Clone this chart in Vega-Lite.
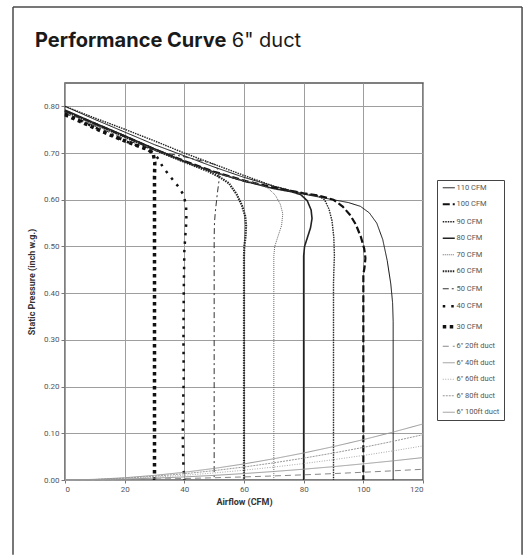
{
  "$schema": "https://vega.github.io/schema/vega-lite/v6.json",
  "width": 358,
  "height": 397,
  "padding": {"left": 12, "top": 6, "right": 2, "bottom": 0},
  "background": "#ffffff",
  "config": {
    "view": {"stroke": "#555555", "strokeWidth": 1.5},
    "axis": {"domain": false, "grid": true, "gridColor": "#9e9e9e", "gridWidth": 1, "tickColor": "#777777", "labelFont": "Roboto", "labelFontSize": 8, "labelColor": "#555555", "titleFont": "Roboto", "titleFontSize": 9, "titleFontWeight": "bold", "titleColor": "#333333"}
  },
  "datasets": {
    "fan": [
      {"s":"110 CFM","k":0,"x":0,"y":0.800},{"s":"110 CFM","k":1,"x":10,"y":0.772},{"s":"110 CFM","k":2,"x":20,"y":0.745},{"s":"110 CFM","k":3,"x":30,"y":0.718},{"s":"110 CFM","k":4,"x":40,"y":0.694},{"s":"110 CFM","k":5,"x":50,"y":0.670},{"s":"110 CFM","k":6,"x":60,"y":0.648},{"s":"110 CFM","k":7,"x":70,"y":0.629},{"s":"110 CFM","k":8,"x":80,"y":0.612},{"s":"110 CFM","k":9,"x":90,"y":0.600},{"s":"110 CFM","k":10,"x":95,"y":0.594},{"s":"110 CFM","k":11,"x":99,"y":0.586},{"s":"110 CFM","k":12,"x":102,"y":0.572},{"s":"110 CFM","k":13,"x":104.5,"y":0.550},{"s":"110 CFM","k":14,"x":106.5,"y":0.515},{"s":"110 CFM","k":15,"x":108,"y":0.470},{"s":"110 CFM","k":16,"x":109.2,"y":0.420},{"s":"110 CFM","k":17,"x":109.8,"y":0.380},{"s":"110 CFM","k":18,"x":110,"y":0.340},{"s":"110 CFM","k":19,"x":110,"y":0},
      {"s":"100 CFM","k":0,"x":0,"y":0.790},{"s":"100 CFM","k":1,"x":10,"y":0.763},{"s":"100 CFM","k":2,"x":20,"y":0.736},{"s":"100 CFM","k":3,"x":30,"y":0.708},{"s":"100 CFM","k":4,"x":40,"y":0.683},{"s":"100 CFM","k":5,"x":50,"y":0.660},{"s":"100 CFM","k":6,"x":60,"y":0.641},{"s":"100 CFM","k":7,"x":70,"y":0.626},{"s":"100 CFM","k":8,"x":80,"y":0.614},{"s":"100 CFM","k":9,"x":85,"y":0.609},{"s":"100 CFM","k":10,"x":90,"y":0.600},{"s":"100 CFM","k":11,"x":93,"y":0.586},{"s":"100 CFM","k":12,"x":95.5,"y":0.568},{"s":"100 CFM","k":13,"x":97.5,"y":0.547},{"s":"100 CFM","k":14,"x":99.2,"y":0.520},{"s":"100 CFM","k":15,"x":100.3,"y":0.495},{"s":"100 CFM","k":16,"x":100.7,"y":0.475},{"s":"100 CFM","k":17,"x":100.4,"y":0.455},{"s":"100 CFM","k":18,"x":100,"y":0.440},{"s":"100 CFM","k":19,"x":100,"y":0},
      {"s":"90 CFM","k":0,"x":0,"y":0.800},{"s":"90 CFM","k":1,"x":10,"y":0.775},{"s":"90 CFM","k":2,"x":20,"y":0.751},{"s":"90 CFM","k":3,"x":30,"y":0.726},{"s":"90 CFM","k":4,"x":40,"y":0.700},{"s":"90 CFM","k":5,"x":50,"y":0.676},{"s":"90 CFM","k":6,"x":60,"y":0.652},{"s":"90 CFM","k":7,"x":70,"y":0.629},{"s":"90 CFM","k":8,"x":80,"y":0.613},{"s":"90 CFM","k":9,"x":85,"y":0.608},{"s":"90 CFM","k":10,"x":87,"y":0.600},{"s":"90 CFM","k":11,"x":88.5,"y":0.580},{"s":"90 CFM","k":12,"x":89.5,"y":0.555},{"s":"90 CFM","k":13,"x":90.1,"y":0.520},{"s":"90 CFM","k":14,"x":90.3,"y":0.480},{"s":"90 CFM","k":15,"x":90.1,"y":0.445},{"s":"90 CFM","k":16,"x":90,"y":0.420},{"s":"90 CFM","k":17,"x":90,"y":0},
      {"s":"80 CFM","k":0,"x":0,"y":0.792},{"s":"80 CFM","k":1,"x":10,"y":0.764},{"s":"80 CFM","k":2,"x":20,"y":0.737},{"s":"80 CFM","k":3,"x":30,"y":0.709},{"s":"80 CFM","k":4,"x":40,"y":0.682},{"s":"80 CFM","k":5,"x":50,"y":0.659},{"s":"80 CFM","k":6,"x":60,"y":0.640},{"s":"80 CFM","k":7,"x":70,"y":0.624},{"s":"80 CFM","k":8,"x":76,"y":0.617},{"s":"80 CFM","k":9,"x":79,"y":0.611},{"s":"80 CFM","k":10,"x":81.2,"y":0.598},{"s":"80 CFM","k":11,"x":82.5,"y":0.578},{"s":"80 CFM","k":12,"x":82.8,"y":0.560},{"s":"80 CFM","k":13,"x":82.3,"y":0.540},{"s":"80 CFM","k":14,"x":81.2,"y":0.518},{"s":"80 CFM","k":15,"x":80.3,"y":0.500},{"s":"80 CFM","k":16,"x":80,"y":0.480},{"s":"80 CFM","k":17,"x":80,"y":0},
      {"s":"70 CFM","k":0,"x":0,"y":0.788},{"s":"70 CFM","k":1,"x":10,"y":0.760},{"s":"70 CFM","k":2,"x":20,"y":0.733},{"s":"70 CFM","k":3,"x":30,"y":0.706},{"s":"70 CFM","k":4,"x":40,"y":0.681},{"s":"70 CFM","k":5,"x":50,"y":0.658},{"s":"70 CFM","k":6,"x":60,"y":0.641},{"s":"70 CFM","k":7,"x":65,"y":0.634},{"s":"70 CFM","k":8,"x":68,"y":0.625},{"s":"70 CFM","k":9,"x":70.5,"y":0.610},{"s":"70 CFM","k":10,"x":72.2,"y":0.590},{"s":"70 CFM","k":11,"x":73,"y":0.570},{"s":"70 CFM","k":12,"x":72.6,"y":0.545},{"s":"70 CFM","k":13,"x":71.3,"y":0.520},{"s":"70 CFM","k":14,"x":70.3,"y":0.500},{"s":"70 CFM","k":15,"x":70,"y":0.480},{"s":"70 CFM","k":16,"x":70,"y":0},
      {"s":"60 CFM","k":0,"x":0,"y":0.790},{"s":"60 CFM","k":1,"x":10,"y":0.762},{"s":"60 CFM","k":2,"x":20,"y":0.735},{"s":"60 CFM","k":3,"x":30,"y":0.707},{"s":"60 CFM","k":4,"x":40,"y":0.681},{"s":"60 CFM","k":5,"x":48,"y":0.661},{"s":"60 CFM","k":6,"x":52,"y":0.648},{"s":"60 CFM","k":7,"x":55,"y":0.635},{"s":"60 CFM","k":8,"x":57.5,"y":0.612},{"s":"60 CFM","k":9,"x":59.3,"y":0.588},{"s":"60 CFM","k":10,"x":60.4,"y":0.565},{"s":"60 CFM","k":11,"x":60.7,"y":0.545},{"s":"60 CFM","k":12,"x":60.5,"y":0.520},{"s":"60 CFM","k":13,"x":60.1,"y":0.500},{"s":"60 CFM","k":14,"x":60,"y":0.480},{"s":"60 CFM","k":15,"x":60,"y":0},
      {"s":"50 CFM","k":0,"x":0,"y":0.785},{"s":"50 CFM","k":1,"x":10,"y":0.758},{"s":"50 CFM","k":2,"x":20,"y":0.730},{"s":"50 CFM","k":3,"x":30,"y":0.705},{"s":"50 CFM","k":4,"x":40,"y":0.692},{"s":"50 CFM","k":5,"x":48,"y":0.680},{"s":"50 CFM","k":6,"x":50.5,"y":0.675},{"s":"50 CFM","k":7,"x":51.5,"y":0.660},{"s":"50 CFM","k":8,"x":51.6,"y":0.640},{"s":"50 CFM","k":9,"x":51,"y":0.610},{"s":"50 CFM","k":10,"x":50.4,"y":0.575},{"s":"50 CFM","k":11,"x":50.1,"y":0.550},{"s":"50 CFM","k":12,"x":50,"y":0.520},{"s":"50 CFM","k":13,"x":50,"y":0},
      {"s":"40 CFM","k":0,"x":0,"y":0.785},{"s":"40 CFM","k":1,"x":5,"y":0.770},{"s":"40 CFM","k":2,"x":10,"y":0.755},{"s":"40 CFM","k":3,"x":15,"y":0.740},{"s":"40 CFM","k":4,"x":20,"y":0.726},{"s":"40 CFM","k":5,"x":25,"y":0.714},{"s":"40 CFM","k":6,"x":29,"y":0.703},{"s":"40 CFM","k":7,"x":31,"y":0.690},{"s":"40 CFM","k":8,"x":33,"y":0.668},{"s":"40 CFM","k":9,"x":35.5,"y":0.648},{"s":"40 CFM","k":10,"x":38,"y":0.628},{"s":"40 CFM","k":11,"x":39.8,"y":0.610},{"s":"40 CFM","k":12,"x":40.6,"y":0.585},{"s":"40 CFM","k":13,"x":40.7,"y":0.555},{"s":"40 CFM","k":14,"x":40.3,"y":0.520},{"s":"40 CFM","k":15,"x":40,"y":0.490},{"s":"40 CFM","k":16,"x":39.8,"y":0.400},{"s":"40 CFM","k":17,"x":39.7,"y":0.300},{"s":"40 CFM","k":18,"x":39.8,"y":0.220},{"s":"40 CFM","k":19,"x":39.5,"y":0.140},{"s":"40 CFM","k":20,"x":39.5,"y":0.080},{"s":"40 CFM","k":21,"x":39.7,"y":0.030},{"s":"40 CFM","k":22,"x":40,"y":0},
      {"s":"30 CFM","k":0,"x":0,"y":0.782},{"s":"30 CFM","k":1,"x":5,"y":0.768},{"s":"30 CFM","k":2,"x":10,"y":0.753},{"s":"30 CFM","k":3,"x":15,"y":0.739},{"s":"30 CFM","k":4,"x":20,"y":0.726},{"s":"30 CFM","k":5,"x":25,"y":0.714},{"s":"30 CFM","k":6,"x":28,"y":0.707},{"s":"30 CFM","k":7,"x":29.6,"y":0.698},{"s":"30 CFM","k":8,"x":30.1,"y":0.680},{"s":"30 CFM","k":9,"x":30,"y":0.650},{"s":"30 CFM","k":10,"x":30,"y":0},
      {"s":"6\" 20ft duct","k":0,"x":0,"y":0},{"s":"6\" 20ft duct","k":1,"x":10,"y":0.0003},{"s":"6\" 20ft duct","k":2,"x":20,"y":0.0009},{"s":"6\" 20ft duct","k":3,"x":30,"y":0.0019},{"s":"6\" 20ft duct","k":4,"x":40,"y":0.0032},{"s":"6\" 20ft duct","k":5,"x":50,"y":0.0048},{"s":"6\" 20ft duct","k":6,"x":60,"y":0.0066},{"s":"6\" 20ft duct","k":7,"x":70,"y":0.0087},{"s":"6\" 20ft duct","k":8,"x":80,"y":0.0111},{"s":"6\" 20ft duct","k":9,"x":90,"y":0.0137},{"s":"6\" 20ft duct","k":10,"x":100,"y":0.0166},{"s":"6\" 20ft duct","k":11,"x":110,"y":0.0197},{"s":"6\" 20ft duct","k":12,"x":120,"y":0.023},
      {"s":"6\" 40ft duct","k":0,"x":0,"y":0},{"s":"6\" 40ft duct","k":1,"x":10,"y":0.0005},{"s":"6\" 40ft duct","k":2,"x":20,"y":0.0019},{"s":"6\" 40ft duct","k":3,"x":30,"y":0.0040},{"s":"6\" 40ft duct","k":4,"x":40,"y":0.0066},{"s":"6\" 40ft duct","k":5,"x":50,"y":0.0099},{"s":"6\" 40ft duct","k":6,"x":60,"y":0.0138},{"s":"6\" 40ft duct","k":7,"x":70,"y":0.0182},{"s":"6\" 40ft duct","k":8,"x":80,"y":0.0231},{"s":"6\" 40ft duct","k":9,"x":90,"y":0.0286},{"s":"6\" 40ft duct","k":10,"x":100,"y":0.0346},{"s":"6\" 40ft duct","k":11,"x":110,"y":0.0410},{"s":"6\" 40ft duct","k":12,"x":120,"y":0.048},
      {"s":"6\" 60ft duct","k":0,"x":0,"y":0},{"s":"6\" 60ft duct","k":1,"x":10,"y":0.0008},{"s":"6\" 60ft duct","k":2,"x":20,"y":0.0029},{"s":"6\" 60ft duct","k":3,"x":30,"y":0.0060},{"s":"6\" 60ft duct","k":4,"x":40,"y":0.0101},{"s":"6\" 60ft duct","k":5,"x":50,"y":0.0151},{"s":"6\" 60ft duct","k":6,"x":60,"y":0.0210},{"s":"6\" 60ft duct","k":7,"x":70,"y":0.0277},{"s":"6\" 60ft duct","k":8,"x":80,"y":0.0352},{"s":"6\" 60ft duct","k":9,"x":90,"y":0.0435},{"s":"6\" 60ft duct","k":10,"x":100,"y":0.0526},{"s":"6\" 60ft duct","k":11,"x":110,"y":0.0624},{"s":"6\" 60ft duct","k":12,"x":120,"y":0.073},
      {"s":"6\" 80ft duct","k":0,"x":0,"y":0},{"s":"6\" 80ft duct","k":1,"x":10,"y":0.0011},{"s":"6\" 80ft duct","k":2,"x":20,"y":0.0039},{"s":"6\" 80ft duct","k":3,"x":30,"y":0.0080},{"s":"6\" 80ft duct","k":4,"x":40,"y":0.0134},{"s":"6\" 80ft duct","k":5,"x":50,"y":0.0201},{"s":"6\" 80ft duct","k":6,"x":60,"y":0.0278},{"s":"6\" 80ft duct","k":7,"x":70,"y":0.0368},{"s":"6\" 80ft duct","k":8,"x":80,"y":0.0468},{"s":"6\" 80ft duct","k":9,"x":90,"y":0.0578},{"s":"6\" 80ft duct","k":10,"x":100,"y":0.0698},{"s":"6\" 80ft duct","k":11,"x":110,"y":0.0829},{"s":"6\" 80ft duct","k":12,"x":120,"y":0.097},
      {"s":"6\" 100ft duct","k":0,"x":0,"y":0},{"s":"6\" 100ft duct","k":1,"x":10,"y":0.0014},{"s":"6\" 100ft duct","k":2,"x":20,"y":0.0048},{"s":"6\" 100ft duct","k":3,"x":30,"y":0.0099},{"s":"6\" 100ft duct","k":4,"x":40,"y":0.0166},{"s":"6\" 100ft duct","k":5,"x":50,"y":0.0248},{"s":"6\" 100ft duct","k":6,"x":60,"y":0.0344},{"s":"6\" 100ft duct","k":7,"x":70,"y":0.0455},{"s":"6\" 100ft duct","k":8,"x":80,"y":0.0578},{"s":"6\" 100ft duct","k":9,"x":90,"y":0.0715},{"s":"6\" 100ft duct","k":10,"x":100,"y":0.0864},{"s":"6\" 100ft duct","k":11,"x":110,"y":0.1026},{"s":"6\" 100ft duct","k":12,"x":120,"y":0.12}
    ]
  },
  "layer": [
    {
      "data": {"name": "fan"},
      "mark": {"type": "line", "strokeCap": "butt", "strokeJoin": "round"},
      "encoding": {
        "x": {
          "field": "x", "type": "quantitative",
          "scale": {"domain": [0, 120], "nice": false, "zero": false},
          "axis": {"title": "Airflow (CFM)", "values": [0,10,20,30,40,50,60,70,80,90,100,110,120], "labelExpr": "datum.value % 20 === 0 ? datum.label : ''", "tickSize": 3, "labelPadding": 2, "titlePadding": 4}
        },
        "y": {
          "field": "y", "type": "quantitative",
          "scale": {"domain": [0, 0.85], "nice": false, "zero": false},
          "axis": {"title": "Static Pressure (inch w.g.)", "values": [0,0.05,0.1,0.15,0.2,0.25,0.3,0.35,0.4,0.45,0.5,0.55,0.6,0.65,0.7,0.75,0.8,0.85], "labelExpr": "round(datum.value*100) % 10 === 0 ? format(datum.value, '.2f') : ''", "tickSize": 4, "labelPadding": 2, "titlePadding": 7}
        },
        "order": {"field": "k", "type": "quantitative"},
        "color": {
          "field": "s", "type": "nominal",
          "scale": {
            "domain": ["110 CFM","100 CFM","90 CFM","80 CFM","70 CFM","60 CFM","50 CFM","40 CFM","30 CFM","6\" 20ft duct","6\" 40ft duct","6\" 60ft duct","6\" 80ft duct","6\" 100ft duct"],
            "range": ["#111111","#111111","#222222","#222222","#666666","#222222","#333333","#111111","#111111","#888888","#999999","#aaaaaa","#999999","#999999"]
          },
          "legend": {
            "title": null, "orient": "none", "legendX": 372, "legendY": 97,
            "padding": 4, "symbolOffset": 4, "rowPadding": 7.5, "symbolSize": 144, "symbolType": "stroke",
            "labelFont": "Roboto", "labelFontSize": 7.5, "labelColor": "#555555", "labelOffset": 4, "strokeColor": "#444444",
            "encode": {
              "symbols": {
                "update": {
                  "strokeWidth": {"signal": "datum.value === '100 CFM' || datum.value === '60 CFM' ? 2.2 : datum.value === '40 CFM' ? 2.5 : datum.value === '30 CFM' ? 3.5 : datum.value === '80 CFM' ? 1.6 : datum.value === '90 CFM' ? 1.4 : 1"}
                }
              }
            }
          }
        },
        "strokeDash": {
          "field": "s", "type": "nominal",
          "scale": {
            "domain": ["110 CFM","100 CFM","90 CFM","80 CFM","70 CFM","60 CFM","50 CFM","40 CFM","30 CFM","6\" 20ft duct","6\" 40ft duct","6\" 60ft duct","6\" 80ft duct","6\" 100ft duct"],
            "range": [[1,0],[7,3],[1.5,1],[1,0],[1,1],[1.5,1],[6,3,2,3],[2.5,6],[3.5,3.5],[6,4],[1,0],[1,1.5],[2,1],[1,0]]
          }
        },
        "strokeWidth": {
          "condition": [
            {"test": "datum.s === '100 CFM' || datum.s === '60 CFM'", "value": 2.2},
            {"test": "datum.s === '40 CFM'", "value": 2.5},
            {"test": "datum.s === '30 CFM'", "value": 3.5},
            {"test": "datum.s === '80 CFM'", "value": 1.6},
            {"test": "datum.s === '90 CFM'", "value": 1.4}
          ],
          "value": 1
        }
      }
    },
    {
      "data": {"values": [{}]},
      "mark": {"type": "rule", "stroke": "#4a4a4a", "strokeWidth": 1.5},
      "encoding": {"x": {"datum": -17.43, "type": "quantitative"}, "y": {"datum": -0.16, "type": "quantitative"}, "y2": {"datum": 1.0127}}
    },
    {
      "data": {"values": [{}]},
      "mark": {"type": "rule", "stroke": "#4a4a4a", "strokeWidth": 1.5},
      "encoding": {"x": {"datum": 153.2, "type": "quantitative"}, "y": {"datum": -0.16, "type": "quantitative"}, "y2": {"datum": 1.0127}}
    },
    {
      "data": {"values": [{}]},
      "mark": {"type": "rule", "stroke": "#4a4a4a", "strokeWidth": 1.5},
      "encoding": {"x": {"datum": -17.43, "x2": null, "type": "quantitative"}, "x2": {"datum": 153.2}, "y": {"datum": 1.0127, "type": "quantitative"}}
    },
    {
      "data": {"values": [{}]},
      "mark": {"type": "text", "text": "Performance Curve", "align": "left", "baseline": "alphabetic", "font": "Inter", "fontSize": 20, "fontWeight": "bold", "color": "#1a1a1a"},
      "encoding": {"x": {"datum": -10.06, "type": "quantitative"}, "y": {"datum": 0.9277, "type": "quantitative"}}
    },
    {
      "data": {"values": [{}]},
      "mark": {"type": "text", "text": "6\" duct", "align": "left", "baseline": "alphabetic", "font": "Inter", "fontSize": 20, "color": "#1a1a1a"},
      "encoding": {"x": {"datum": 55.9, "type": "quantitative"}, "y": {"datum": 0.9277, "type": "quantitative"}}
    }
  ]
}
